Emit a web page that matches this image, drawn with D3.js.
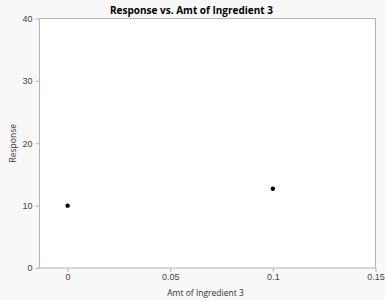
<!DOCTYPE html>
<meta charset="utf-8">
<style>
  body { margin: 0; background: #f8f8f8; }
  svg { display: block; font-family: "Open Sans", "Noto Sans", sans-serif; }
</style>
<body>
<script src="https://cdn.jsdelivr.net/npm/d3@7"></script>
<script>

var width = 385,
    height = 300,
    margin = {top: 18.5, right: 9.5, bottom: 32, left: 39.5};

// data
var amt = [0, 0.1],
    response = [10, 12.7];
var xTicks = [0, 0.05, 0.1, 0.15],
    yTicks = [0, 10, 20, 30, 40];

var x = d3.scaleLinear()
    .domain([-0.0137, 0.15])
    .range([margin.left, width - margin.right]);

var y = d3.scaleLinear()
    .domain([0, 40])
    .range([height - margin.bottom, margin.top]);

var svg = d3.select("body").append("svg")
    .attr("width", width)
    .attr("height", height);

svg.append("rect")
    .attr("x", margin.left)
    .attr("y", margin.top)
    .attr("width", width - margin.right - margin.left)
    .attr("height", height - margin.bottom - margin.top)
    .style("fill", "#fff")
    .style("stroke", "#b4b4b4");

var xAxis = svg.append("g")
    .attr("transform", "translate(0," + (height - margin.bottom) + ")")
    .call(d3.axisBottom(x).tickValues(xTicks).tickSize(4).tickFormat(d3.format("")));

var yAxis = svg.append("g")
    .attr("transform", "translate(" + margin.left + ",0)")
    .call(d3.axisLeft(y).tickValues(yTicks).tickSize(4));

[xAxis, yAxis].forEach(function(g) {
  g.select(".domain").remove();
  g.selectAll(".tick line").style("stroke", "#b4b4b4");
  g.selectAll(".tick text").style("fill", "#444").style("font-size", "9px");
});
xAxis.selectAll(".tick text").attr("dy", "0.6em");

svg.selectAll("circle")
  .data(amt)
  .enter().append("circle")
    .attr("cx", function(d) { return x(d); })
    .attr("cy", function(d, i) { return y(response[i]); })
    .attr("r", 2.2)
    .style("fill", "#000");

svg.append("text")
    .attr("x", 191.5)
    .attr("y", 13.5)
    .attr("text-anchor", "middle")
    .style("font-weight", "bold")
    .style("font-size", "10px")
    .text("Response vs. Amt of Ingredient 3");

svg.append("text")
    .attr("x", 205.5)
    .attr("y", 295.5)
    .attr("text-anchor", "middle")
    .style("font-size", "8.5px")
    .style("fill", "#333")
    .text("Amt of Ingredient 3");

svg.append("text")
    .attr("transform", "translate(16," + ((margin.top + height - margin.bottom) / 2) + ") rotate(-90)")
    .attr("text-anchor", "middle")
    .style("font-size", "8.5px")
    .style("fill", "#333")
    .text("Response");

</script>
